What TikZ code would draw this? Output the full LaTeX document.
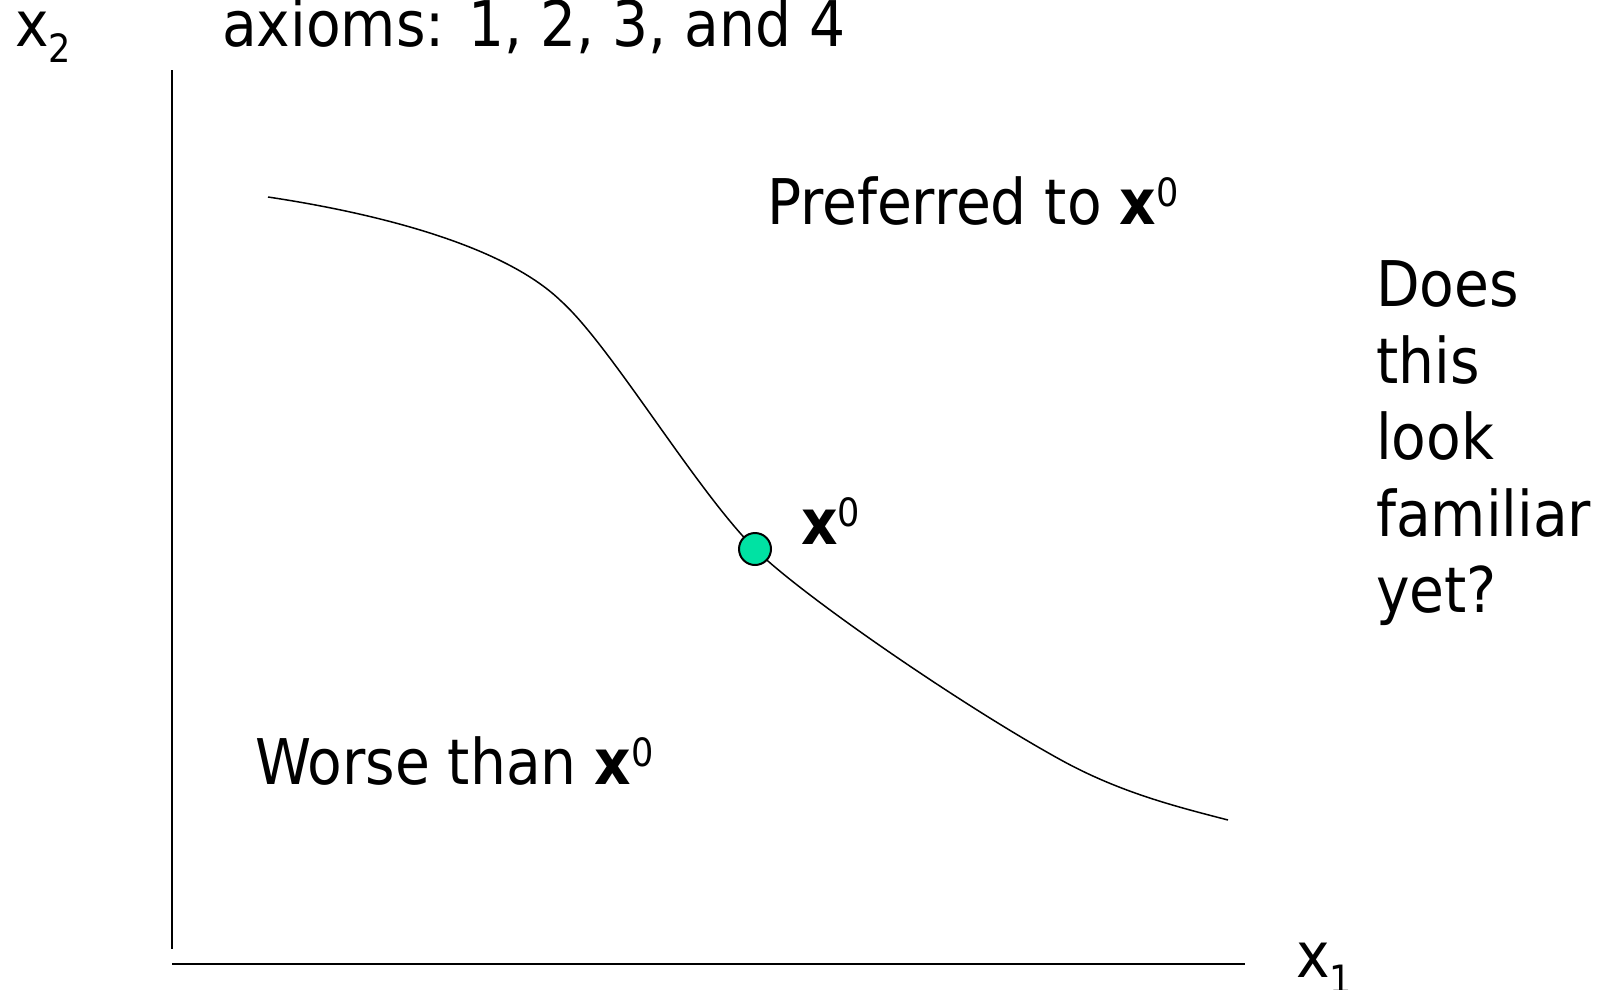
\documentclass[tikz,border=0pt]{standalone}
\usepackage{fontspec}
\setmainfont{DejaVu Sans Condensed}
\definecolor{dotgreen}{RGB}{0,226,163}
\begin{document}
\begin{tikzpicture}[x=1pt,y=-1pt,
  lbl/.style={anchor=base west, inner sep=0pt, font=\fontsize{63}{76.5}\selectfont},
  axis/.style={line width=2pt},
  curve/.style={line width=1.5pt},
  pt/.style={circle, draw=black, line width=2pt, fill=dotgreen, minimum size=32pt, inner sep=0pt}]
\useasboundingbox (0,0) rectangle (1600,989);
\newcommand{\supz}{\raisebox{18pt}{\fontsize{39}{39}\selectfont 0}}
\newcommand{\bx}{\textbf{x}}
% axes
\coordinate (ytop) at (172,70);
\coordinate (ybot) at (172,949);
\coordinate (xl) at (172,964);
\coordinate (xr) at (1245,964);
\draw[axis] (ytop) -- (ybot);
\draw[axis] (xl) -- (xr);
% curve
\draw[curve] (268,197) .. controls (368,212) and (501,243) .. (561,301)
  .. controls (611,346) and (695,489) .. (755,549)
  .. controls (800,594) and (961,705) .. (1061,760)
  .. controls (1121,793) and (1178,807) .. (1228,820);
\node[pt] (x0) at (755,549) {};
% labels
\node[lbl] (x2) at (15,46) {x\raisebox{-16pt}{\fontsize{39}{39}\selectfont 2}};
\node[lbl] (ax) at (222,46) {axioms: 1, 2, 3, and 4};
\node[lbl] (pref) at (767,224) {Preferred to \bx\supz};
\node[lbl] (x0l) at (801,544) {\bx\supz};
\node[lbl] (worse) at (255,784) {Worse than \bx\supz};
\node[lbl] (q1) at (1376,306) {Does};
\node[lbl] (q2) at (1376,383) {this};
\node[lbl] (q3) at (1376,459) {look};
\node[lbl] (q4) at (1376,536) {familiar};
\node[lbl] (q5) at (1376,612) {yet?};
\node[lbl] (x1) at (1296,977) {x\raisebox{-16pt}{\fontsize{39}{39}\selectfont 1}};
\end{tikzpicture}
\end{document}
